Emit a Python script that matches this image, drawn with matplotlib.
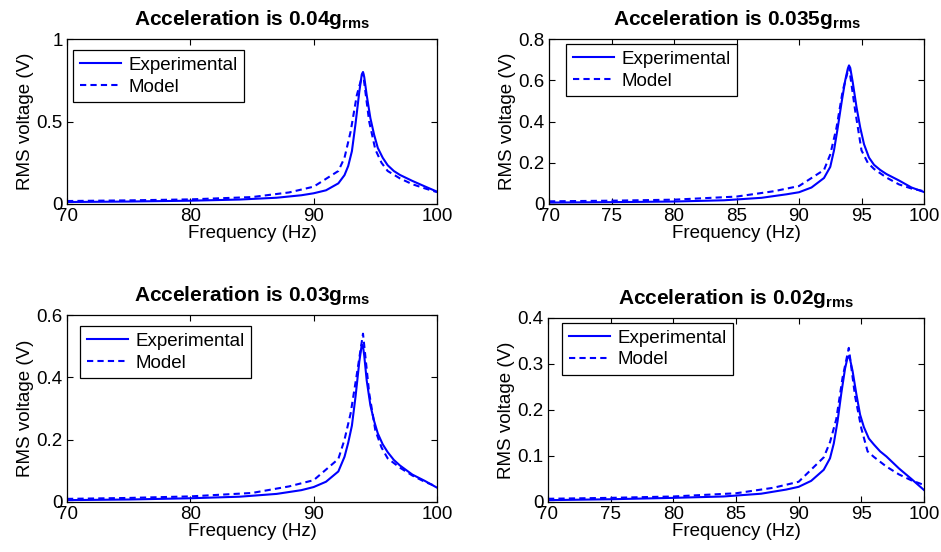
import matplotlib
matplotlib.use("Agg")
import matplotlib.pyplot as plt

plt.rcParams['font.family'] = ['Liberation Sans', 'DejaVu Sans']
plt.rcParams['mathtext.fontset'] = 'custom'
plt.rcParams['mathtext.rm'] = 'Liberation Sans'
plt.rcParams['mathtext.bf'] = 'Liberation Sans:bold'

# Frequency grids (Hz)
f_exp = [70, 75, 80, 84, 87, 89, 90, 91, 92, 92.5, 92.8, 93.1, 93.4, 93.7, 93.9,
         94.0, 94.1, 94.3, 94.6, 94.9, 95.2, 95.6, 96, 96.5, 97, 98, 99, 100]
f_mod = [70, 75, 80, 85, 88, 90, 92, 92.5, 93, 93.5, 94, 94.5, 95, 95.5, 96,
         97, 98, 99, 100]

# Experimental RMS voltage (V)
exp_004 = [0.012, 0.015, 0.020, 0.027, 0.038, 0.053, 0.065, 0.083, 0.125, 0.175,
           0.23, 0.32, 0.49, 0.68, 0.785, 0.80, 0.77, 0.66, 0.52, 0.42, 0.34,
           0.28, 0.235, 0.20, 0.176, 0.14, 0.107, 0.075]
exp_0035 = [0.007, 0.009, 0.012, 0.018, 0.030, 0.047, 0.057, 0.080, 0.126, 0.18,
            0.26, 0.37, 0.49, 0.60, 0.655, 0.672, 0.66, 0.59, 0.47, 0.37, 0.29,
            0.225, 0.19, 0.165, 0.145, 0.114, 0.080, 0.058]
exp_003 = [0.006, 0.008, 0.012, 0.017, 0.026, 0.038, 0.048, 0.065, 0.098, 0.145,
           0.19, 0.245, 0.34, 0.45, 0.505, 0.50, 0.47, 0.39, 0.31, 0.26, 0.22,
           0.185, 0.16, 0.135, 0.117, 0.088, 0.068, 0.046]
exp_002 = [0.004, 0.006, 0.009, 0.012, 0.018, 0.027, 0.033, 0.046, 0.070, 0.095,
           0.127, 0.175, 0.236, 0.29, 0.314, 0.317, 0.31, 0.285, 0.235, 0.19, 0.163,
           0.138, 0.125, 0.11, 0.099, 0.073, 0.050, 0.026]

# Model RMS voltage (V)
mod_004 = [0.018, 0.022, 0.028, 0.042, 0.070, 0.105, 0.20, 0.28, 0.44, 0.66,
           0.795, 0.50, 0.33, 0.25, 0.20, 0.155, 0.12, 0.095, 0.072]
mod_0035 = [0.013, 0.016, 0.021, 0.036, 0.062, 0.087, 0.165, 0.24, 0.37, 0.55,
            0.665, 0.45, 0.26, 0.20, 0.17, 0.128, 0.095, 0.075, 0.062]
mod_003 = [0.010, 0.013, 0.018, 0.029, 0.050, 0.070, 0.138, 0.20, 0.285, 0.41,
           0.54, 0.35, 0.23, 0.175, 0.14, 0.11, 0.085, 0.065, 0.049]
mod_002 = [0.007, 0.009, 0.012, 0.019, 0.031, 0.044, 0.097, 0.13, 0.18, 0.27,
           0.335, 0.23, 0.16, 0.11, 0.098, 0.077, 0.060, 0.047, 0.037]

titles = ["0.04", "0.035", "0.03", "0.02"]
exp_all = [exp_004, exp_0035, exp_003, exp_002]
mod_all = [mod_004, mod_0035, mod_003, mod_002]
yticks_all = [[0, 0.5, 1], [0, 0.2, 0.4, 0.6, 0.8], [0, 0.2, 0.4, 0.6], [0, 0.1, 0.2, 0.3, 0.4]]
ylabels_all = [["0", "0.5", "1"], ["0", "0.2", "0.4", "0.6", "0.8"],
               ["0", "0.2", "0.4", "0.6"], ["0", "0.1", "0.2", "0.3", "0.4"]]
xticks_all = [[70, 80, 90, 100], [70, 75, 80, 85, 90, 95, 100],
              [70, 80, 90, 100], [70, 75, 80, 85, 90, 95, 100]]

W, H = 941, 552
fig = plt.figure(figsize=(W / 100, H / 100), dpi=100)

# axes boxes in pixels: left, top, right, bottom
boxes = [(67, 39, 437, 204), (549, 39, 924, 204), (67, 315, 437, 502), (548, 318, 924, 502)]
leg_off = [(6, 11), (17, 5), (13, 11), (14, 5)]

for i in range(4):
    l, t, r, b = boxes[i]
    ax = fig.add_axes([l / W, 1 - b / H, (r - l) / W, (b - t) / H])
    ax.plot(f_exp, exp_all[i], color='#0000ff', lw=1.5, label='Experimental')
    ax.plot(f_mod, mod_all[i], color='#0000ff', lw=1.5, linestyle=(0, (3, 2)), label='Model')
    ax.set_xlim(70, 100)
    ax.set_ylim(yticks_all[i][0], yticks_all[i][-1])
    ax.set_xticks(xticks_all[i])
    ax.set_xticklabels([str(v) for v in xticks_all[i]])
    ax.set_yticks(yticks_all[i])
    ax.set_yticklabels(ylabels_all[i])
    ax.tick_params(direction='in', top=True, right=True, labelsize=13.5, length=4, width=0.8, pad=3)
    for s in ax.spines.values():
        s.set_linewidth(0.9)
    ax.set_xlabel('Frequency (Hz)', fontsize=13.5, labelpad=0)
    ax.set_ylabel('RMS voltage (V)', fontsize=13.5, labelpad=2)
    ax.set_title('Acceleration is ' + titles[i] + r'g$_\mathbf{rms}$', fontsize=15,
                 fontweight='bold', pad=10)
    dx, dy = leg_off[i]
    ax.legend(loc='upper left', bbox_to_anchor=(dx / (r - l), 1 - dy / (b - t)),
              borderaxespad=0, fontsize=13.5, frameon=True, fancybox=False,
              edgecolor='black', framealpha=1, handlelength=2.2, handletextpad=0.4,
              borderpad=0.35, labelspacing=0.25)
    ax.get_legend().get_frame().set_linewidth(0.9)

fig.savefig('out.png', dpi=100)
